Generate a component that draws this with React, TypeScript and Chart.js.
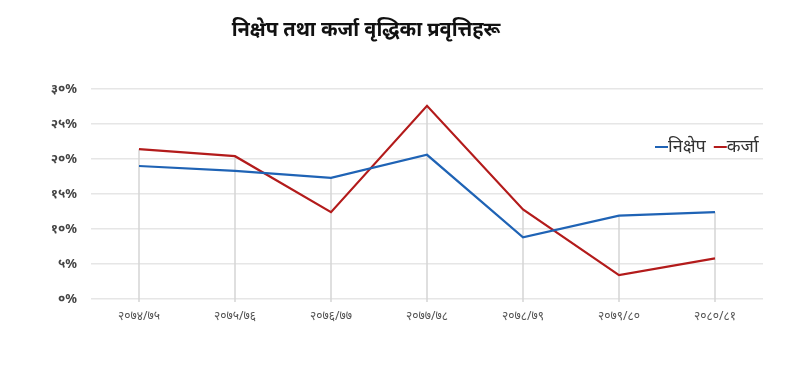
import React, { useEffect, useRef } from "react";
import { Chart, registerables } from "chart.js";

Chart.register(...registerables);

const categories = ["२०७४/७५", "२०७५/७६", "२०७६/७७", "२०७७/७८", "२०७८/७९", "२०७९/८०", "२०८०/८१"];
const depositValues = [19.0, 18.3, 17.3, 20.6, 8.8, 11.9, 12.4];
const loanValues = [21.4, 20.4, 12.4, 27.6, 12.8, 3.4, 5.8];
const seriesLabels = ["निक्षेप", "कर्जा"];
const yTickLabels: Record<number, string> = { 0: "०%", 5: "५%", 10: "१०%", 15: "१५%", 20: "२०%", 25: "२५%", 30: "३०%" };
const titleText = "निक्षेप तथा कर्जा वृद्धिका प्रवृत्तिहरू";

const FONT = "'Noto Sans', 'Noto Sans Devanagari', 'Lohit Devanagari', 'FreeSans', sans-serif";
const BLUE = "#1f63b5";
const RED = "#b31b1b";

const dropLines = {
  id: "dropLines",
  beforeDatasetsDraw(chart: any) {
    const ctx = chart.ctx;
    const y = chart.scales.y;
    const n = chart.data.labels.length;
    ctx.save();
    ctx.strokeStyle = "#d4d4d4";
    ctx.lineWidth = 1.5;
    for (let i = 0; i < n; i++) {
      let top = Infinity;
      chart.data.datasets.forEach((_: any, di: number) => {
        const pt = chart.getDatasetMeta(di).data[i];
        if (pt && pt.y < top) top = pt.y;
      });
      const x = chart.getDatasetMeta(0).data[i].x;
      ctx.beginPath();
      ctx.moveTo(x, top);
      ctx.lineTo(x, y.getPixelForValue(0) + 3);
      ctx.stroke();
    }
    ctx.restore();
  },
};

const titleAndLegend = {
  id: "titleAndLegend",
  afterDraw(chart: any) {
    const ctx = chart.ctx;
    ctx.save();
    ctx.fillStyle = "#111";
    ctx.font = `bold 20px ${FONT}`;
    ctx.textAlign = "center";
    ctx.textBaseline = "middle";
    ctx.fillText(titleText, 366, 30);

    ctx.font = `18px ${FONT}`;
    ctx.textAlign = "left";
    let x = 655;
    const ly = 147;
    chart.data.datasets.forEach((ds: any) => {
      ctx.strokeStyle = ds.borderColor;
      ctx.lineWidth = 2;
      ctx.beginPath();
      ctx.moveTo(x, ly);
      ctx.lineTo(x + 13, ly);
      ctx.stroke();
      ctx.fillStyle = "#333";
      ctx.fillText(ds.label, x + 13, ly);
      x += 13 + ctx.measureText(ds.label).width + 8;
    });
    ctx.restore();
  },
};

export default function App() {
  const ref = useRef<HTMLCanvasElement>(null);
  useEffect(() => {
    if (!ref.current) return;
    const chart = new Chart(ref.current, {
      type: "line",
      data: {
        labels: categories,
        datasets: [
          { label: seriesLabels[0], data: depositValues, borderColor: BLUE, backgroundColor: BLUE, borderWidth: 2.2, pointRadius: 0, tension: 0 },
          { label: seriesLabels[1], data: loanValues, borderColor: RED, backgroundColor: RED, borderWidth: 2.2, pointRadius: 0, tension: 0 },
        ],
      },
      options: {
        animation: false,
        responsive: false,
        layout: { padding: { top: 89, right: 47, left: 0, bottom: 0 } },
        plugins: { legend: { display: false }, title: { display: false }, tooltip: { enabled: false } },
        scales: {
          x: {
            offset: true,
            grid: { display: false, drawTicks: false },
            border: { display: false },
            ticks: { color: "#555", font: { family: FONT, size: 12 }, padding: 10, maxRotation: 0 },
            afterFit(scale: any) { scale.height = 77; },
          },
          y: {
            min: 0,
            max: 30,
            grid: { color: "#e6e6e6", lineWidth: 1.5, drawTicks: false },
            border: { display: false },
            ticks: {
              stepSize: 5,
              color: "#444",
              font: { family: FONT, size: 13, weight: "bold" },
              padding: 14,
              callback: (v: any) => yTickLabels[Number(v)] ?? "",
            },
            afterFit(scale: any) { scale.width = 91; },
          },
        },
      },
      plugins: [dropLines, titleAndLegend],
    });
    return () => chart.destroy();
  }, []);
  return (
    <div style={{ position: "fixed", left: 0, top: 0, width: 810, height: 376, background: "#fff" }}>
      <canvas ref={ref} width={810} height={376} style={{ display: "block" }} />
    </div>
  );
}
